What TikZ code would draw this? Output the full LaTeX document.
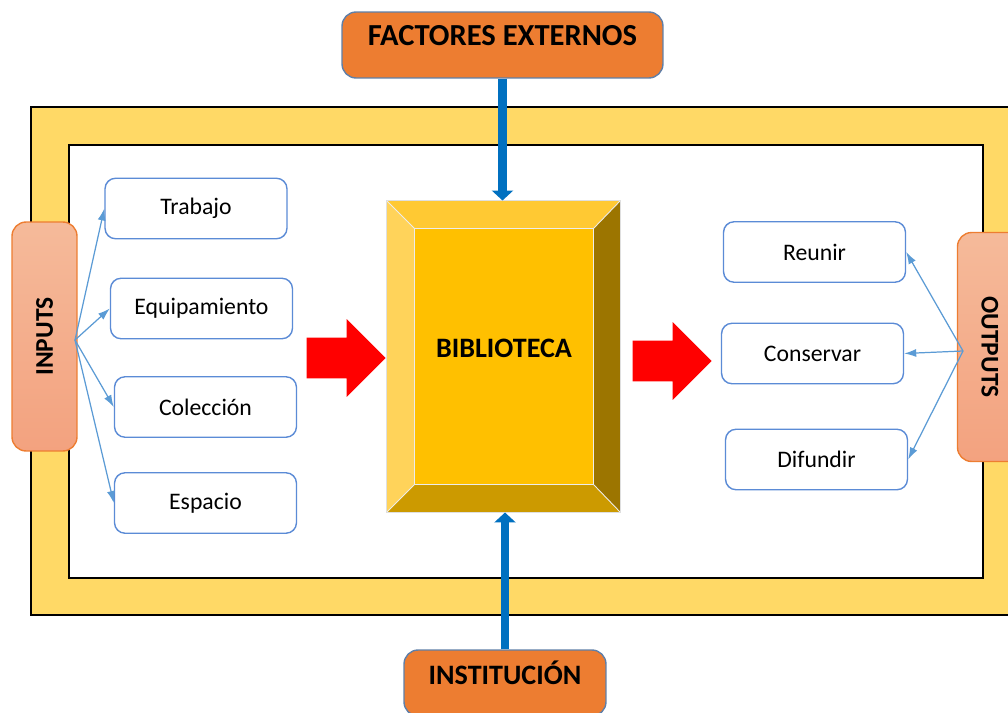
\documentclass[tikz,border=0pt]{standalone}
\usepackage{fontspec}
\setmainfont{Carlito}
\usetikzlibrary{arrows.meta}
\usetikzlibrary{shapes.arrows}
\usetikzlibrary{positioning}
\definecolor{frameyellow}{HTML}{FFD966}
\definecolor{extorange}{HTML}{ED7D31}
\definecolor{extborder}{HTML}{5F7FA8}
\definecolor{sidetop}{HTML}{F5BA9A}
\definecolor{sidebottom}{HTML}{F3A27F}
\definecolor{boxblue}{HTML}{5B8BD6}
\definecolor{linkblue}{HTML}{5B9BD5}
\definecolor{arrowblue}{HTML}{0070C0}
\definecolor{bevelface}{HTML}{FFC000}
\definecolor{beveltop}{HTML}{FFC933}
\definecolor{bevelleft}{HTML}{FFD35A}
\definecolor{bevelright}{HTML}{9C7500}
\definecolor{bevelbottom}{HTML}{CC9A00}
\tikzstyle{itembox} = [rectangle, draw=boxblue, line width=0.8pt, fill=white, rounded corners=6pt, text centered, minimum width=3.64cm, minimum height=1.21cm, font=\fontsize{13.5}{16}\selectfont]
\tikzstyle{extbox} = [rectangle, draw=extborder, line width=0.8pt, fill=extorange, rounded corners=8pt, text centered, minimum height=1.32cm, text height=0.4cm, text depth=0.36cm, font=\bfseries\fontsize{16}{19}\selectfont]
\tikzstyle{sidebox} = [rectangle, draw=extorange, line width=0.8pt, top color=sidetop, bottom color=sidebottom, rounded corners=8pt, minimum width=1.3cm, minimum height=4.58cm, font=\bfseries\fontsize{14.5}{17}\selectfont]
\tikzstyle{flowarrow} = [single arrow, fill=red, draw=none, anchor=tip, inner xsep=0pt, inner ysep=0.4cm, minimum height=1.58cm, single arrow head extend=0.37cm]
\tikzstyle{thinarrow} = [draw=linkblue, line width=0.7pt, -{Latex[length=2.4mm, width=1.6mm]}]
\tikzstyle{thickarrow} = [draw=arrowblue, line width=5pt, -{Triangle[length=2mm, width=4.2mm]}]

\begin{document}
\begin{tikzpicture}[x=0.02cm,y=-0.02cm]
		\clip (0,0) rectangle (1008,713);
		% frame
		\draw [fill=frameyellow, line width=0.6pt] (31,107) rectangle (1040,615);
		\draw [fill=white, line width=0.6pt] (69,145) rectangle (983,578);
		% outside factors
		\node [extbox, minimum width=6.42cm, font=\bfseries\fontsize{17.4}{20}\selectfont] (factores) at (502.5,45) {FACTORES EXTERNOS};
		\node [extbox, minimum width=4.04cm] (institucion) at (505,683) {INSTITUCIÓN};
		% library block
		\node [rectangle, draw=gray!20, line width=0.6pt, minimum width=4.66cm, minimum height=6.22cm] (bevel) at (503.5,356.5) {};
		\node [rectangle, fill=bevelface, text height=0.4cm, text depth=0.38cm, minimum width=3.56cm, minimum height=5.1cm, font=\bfseries\fontsize{16}{19}\selectfont] (biblioteca) at (504,356.5) {BIBLIOTECA};
		\fill [beveltop] (bevel.north west) -- (bevel.north east) -- (biblioteca.north east) -- (biblioteca.north west) -- cycle;
		\fill [bevelleft] (bevel.north west) -- (biblioteca.north west) -- (biblioteca.south west) -- (bevel.south west) -- cycle;
		\fill [bevelright] (bevel.north east) -- (bevel.south east) -- (biblioteca.south east) -- (biblioteca.north east) -- cycle;
		\fill [bevelbottom] (bevel.south west) -- (biblioteca.south west) -- (biblioteca.south east) -- (bevel.south east) -- cycle;
		\draw [white!85!gray, line width=0.5pt] (biblioteca.north west) rectangle (biblioteca.south east);
		\draw [white!85!gray, line width=0.5pt] (bevel.north west) -- (biblioteca.north west) (bevel.north east) -- (biblioteca.north east) (bevel.south west) -- (biblioteca.south west) (bevel.south east) -- (biblioteca.south east);
		\draw [gray!25, line width=0.6pt] (bevel.north west) rectangle (bevel.south east);
		% inputs and outputs
		\node [sidebox] (inputs) at (44.5,336.5) {\rotatebox{90}{INPUTS}};
		\node [sidebox] (outputs) at (990,347) {\rotatebox{-90}{OUTPUTS}};
		\coordinate (inhub) at (75,340);
		\coordinate (outhub) at (963,351);
		% input items
		\node [itembox] (trabajo) at (196,208.5) {Trabajo};
		\node [itembox] (equipamiento) at (201.5,308.5) {Equipamiento};
		\node [itembox] (coleccion) at (205.5,407) {Colección};
		\node [itembox] (espacio) at (205.5,503) {Espacio};
		% output items
		\node [itembox] (reunir) at (814.5,252) {Reunir};
		\node [itembox] (conservar) at (812.5,353.5) {Conservar};
		\node [itembox] (difundir) at (816.5,459.5) {Difundir};
		% flow
		\node [flowarrow] (inflow) at (386,358) {};
		\node [flowarrow] (outflow) at (712,361) {};
		\draw [thickarrow] (factores.south) -- (factores.south |- bevel.north);
		\draw [thickarrow] (institucion.north) -- (institucion.north |- bevel.south);
		\foreach \item in {trabajo,equipamiento,coleccion,espacio}
			\draw [thinarrow] (inhub) -- (\item.west);
		\foreach \item in {reunir,conservar,difundir}
			\draw [thinarrow] (outhub) -- (\item.east);
	\end{tikzpicture}
\end{document}
